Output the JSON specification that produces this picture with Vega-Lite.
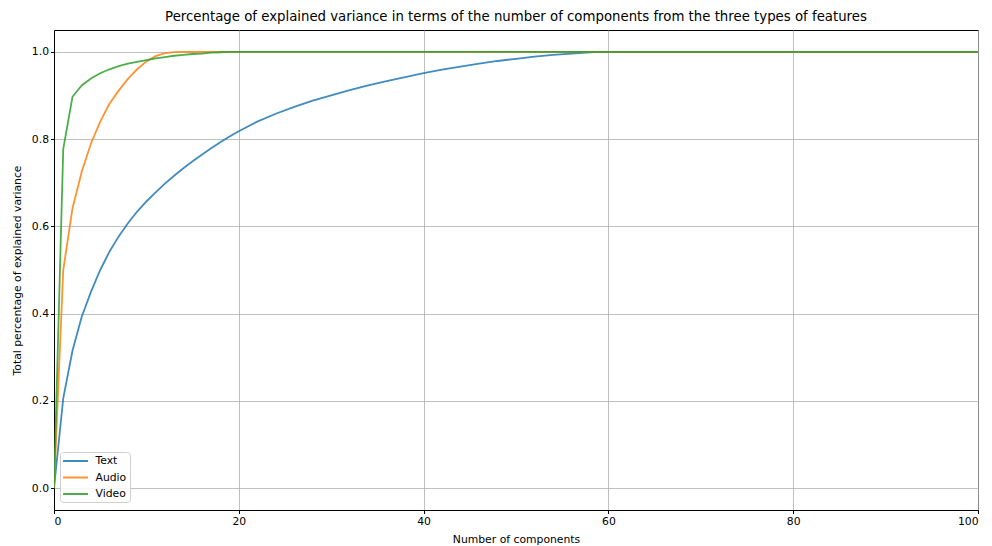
{
  "$schema": "https://vega.github.io/schema/vega-lite/v6.json",
  "width": 924,
  "height": 480,
  "autosize": {"type": "none"},
  "padding": {"left": 54, "top": 30, "right": 14, "bottom": 36},
  "background": "white",
  "title": {
    "text": "Percentage of explained variance in terms of the number of components from the three types of features",
    "font": "DejaVu Sans",
    "fontSize": 13.3,
    "fontWeight": "normal",
    "color": "black",
    "offset": 7,
    "anchor": "middle"
  },
  "config": {
    "view": {"stroke": "black", "strokeWidth": 1},
    "legend": {"strokeWidth": 1},
    "axis": {
      "labelFont": "DejaVu Sans",
      "titleFont": "DejaVu Sans",
      "labelFontSize": 10.8,
      "titleFontSize": 10.8,
      "titleFontWeight": "normal",
      "labelColor": "black",
      "titleColor": "black",
      "tickColor": "black",
      "tickSize": 3.5,
      "domainColor": "black",
      "gridColor": "#b0b0b0",
      "gridWidth": 0.8,
      "gridOpacity": 1
    }
  },
  "data": {
    "values": [
      {"n": 0, "v": 0, "s": "Text"},
      {"n": 1, "v": 0.206, "s": "Text"},
      {"n": 2, "v": 0.315, "s": "Text"},
      {"n": 3, "v": 0.393, "s": "Text"},
      {"n": 4, "v": 0.45, "s": "Text"},
      {"n": 5, "v": 0.5, "s": "Text"},
      {"n": 6, "v": 0.542, "s": "Text"},
      {"n": 7, "v": 0.577, "s": "Text"},
      {"n": 8, "v": 0.607, "s": "Text"},
      {"n": 9, "v": 0.634, "s": "Text"},
      {"n": 10, "v": 0.657, "s": "Text"},
      {"n": 11, "v": 0.678, "s": "Text"},
      {"n": 12, "v": 0.698, "s": "Text"},
      {"n": 13, "v": 0.716, "s": "Text"},
      {"n": 14, "v": 0.733, "s": "Text"},
      {"n": 15, "v": 0.749, "s": "Text"},
      {"n": 16, "v": 0.764, "s": "Text"},
      {"n": 17, "v": 0.779, "s": "Text"},
      {"n": 18, "v": 0.793, "s": "Text"},
      {"n": 19, "v": 0.806, "s": "Text"},
      {"n": 20, "v": 0.818, "s": "Text"},
      {"n": 22, "v": 0.84, "s": "Text"},
      {"n": 24, "v": 0.858, "s": "Text"},
      {"n": 26, "v": 0.874, "s": "Text"},
      {"n": 28, "v": 0.888, "s": "Text"},
      {"n": 30, "v": 0.9, "s": "Text"},
      {"n": 32, "v": 0.912, "s": "Text"},
      {"n": 34, "v": 0.923, "s": "Text"},
      {"n": 36, "v": 0.933, "s": "Text"},
      {"n": 38, "v": 0.942, "s": "Text"},
      {"n": 40, "v": 0.951, "s": "Text"},
      {"n": 42, "v": 0.959, "s": "Text"},
      {"n": 44, "v": 0.966, "s": "Text"},
      {"n": 46, "v": 0.973, "s": "Text"},
      {"n": 48, "v": 0.979, "s": "Text"},
      {"n": 50, "v": 0.984, "s": "Text"},
      {"n": 52, "v": 0.989, "s": "Text"},
      {"n": 54, "v": 0.993, "s": "Text"},
      {"n": 56, "v": 0.996, "s": "Text"},
      {"n": 58, "v": 0.999, "s": "Text"},
      {"n": 59, "v": 1.0, "s": "Text"},
      {"n": 100, "v": 1.0, "s": "Text"},
      {"n": 0, "v": 0, "s": "Audio"},
      {"n": 1, "v": 0.5, "s": "Audio"},
      {"n": 2, "v": 0.641, "s": "Audio"},
      {"n": 3, "v": 0.725, "s": "Audio"},
      {"n": 4, "v": 0.79, "s": "Audio"},
      {"n": 5, "v": 0.84, "s": "Audio"},
      {"n": 6, "v": 0.881, "s": "Audio"},
      {"n": 7, "v": 0.911, "s": "Audio"},
      {"n": 8, "v": 0.938, "s": "Audio"},
      {"n": 9, "v": 0.96, "s": "Audio"},
      {"n": 10, "v": 0.978, "s": "Audio"},
      {"n": 11, "v": 0.99, "s": "Audio"},
      {"n": 12, "v": 0.997, "s": "Audio"},
      {"n": 13, "v": 0.9995, "s": "Audio"},
      {"n": 14, "v": 1.0, "s": "Audio"},
      {"n": 100, "v": 1.0, "s": "Audio"},
      {"n": 0, "v": 0, "s": "Video"},
      {"n": 1, "v": 0.777, "s": "Video"},
      {"n": 2, "v": 0.897, "s": "Video"},
      {"n": 3, "v": 0.923, "s": "Video"},
      {"n": 4, "v": 0.939, "s": "Video"},
      {"n": 5, "v": 0.951, "s": "Video"},
      {"n": 6, "v": 0.96, "s": "Video"},
      {"n": 7, "v": 0.967, "s": "Video"},
      {"n": 8, "v": 0.973, "s": "Video"},
      {"n": 9, "v": 0.977, "s": "Video"},
      {"n": 10, "v": 0.981, "s": "Video"},
      {"n": 11, "v": 0.985, "s": "Video"},
      {"n": 12, "v": 0.988, "s": "Video"},
      {"n": 13, "v": 0.991, "s": "Video"},
      {"n": 14, "v": 0.993, "s": "Video"},
      {"n": 15, "v": 0.995, "s": "Video"},
      {"n": 16, "v": 0.996, "s": "Video"},
      {"n": 17, "v": 0.998, "s": "Video"},
      {"n": 18, "v": 0.999, "s": "Video"},
      {"n": 19, "v": 1.0, "s": "Video"},
      {"n": 100, "v": 1.0, "s": "Video"}
    ]
  },
  "mark": {"type": "line", "strokeWidth": 1.8, "opacity": 0.85, "clip": true},
  "encoding": {
    "x": {
      "field": "n",
      "type": "quantitative",
      "scale": {"domain": [0, 100], "nice": false},
      "axis": {"values": [0, 20, 40, 60, 80, 100], "title": "Number of components", "titlePadding": 7}
    },
    "y": {
      "field": "v",
      "type": "quantitative",
      "scale": {"domain": [-0.05, 1.05], "nice": false, "zero": false},
      "axis": {"values": [0, 0.2, 0.4, 0.6, 0.8, 1.0], "format": ".1f", "title": "Total percentage of explained variance", "titlePadding": 9}
    },
    "color": {
      "field": "s",
      "type": "nominal",
      "sort": ["Text", "Audio", "Video"],
      "scale": {"domain": ["Text", "Audio", "Video"], "range": ["#1f77b4", "#ff7f0e", "#2ca02c"]},
      "legend": {
        "title": null,
        "orient": "none",
        "legendX": 6,
        "legendY": 422,
        "symbolType": "M-2.5,0H2.5",
        "symbolSize": 100,
        "symbolOffset": 6.5,
        "symbolStrokeWidth": 2,
        "symbolOpacity": 0.85,
        "labelFont": "DejaVu Sans",
        "labelFontSize": 10.8,
        "labelColor": "black",
        "labelOffset": 14,
        "rowPadding": 5.5,
        "padding": 3,
        "fillColor": "rgba(255,255,255,0.85)",
        "strokeColor": "#cfcfcf",
        "cornerRadius": 3,
        "encode": {
          "legend": {
            "update": {
              "stroke": {"value": "#cfcfcf"},
              "strokeWidth": {"value": 1},
              "fill": {"value": "white"},
              "fillOpacity": {"value": 0.85}
            }
          }
        }
      }
    }
  }
}
